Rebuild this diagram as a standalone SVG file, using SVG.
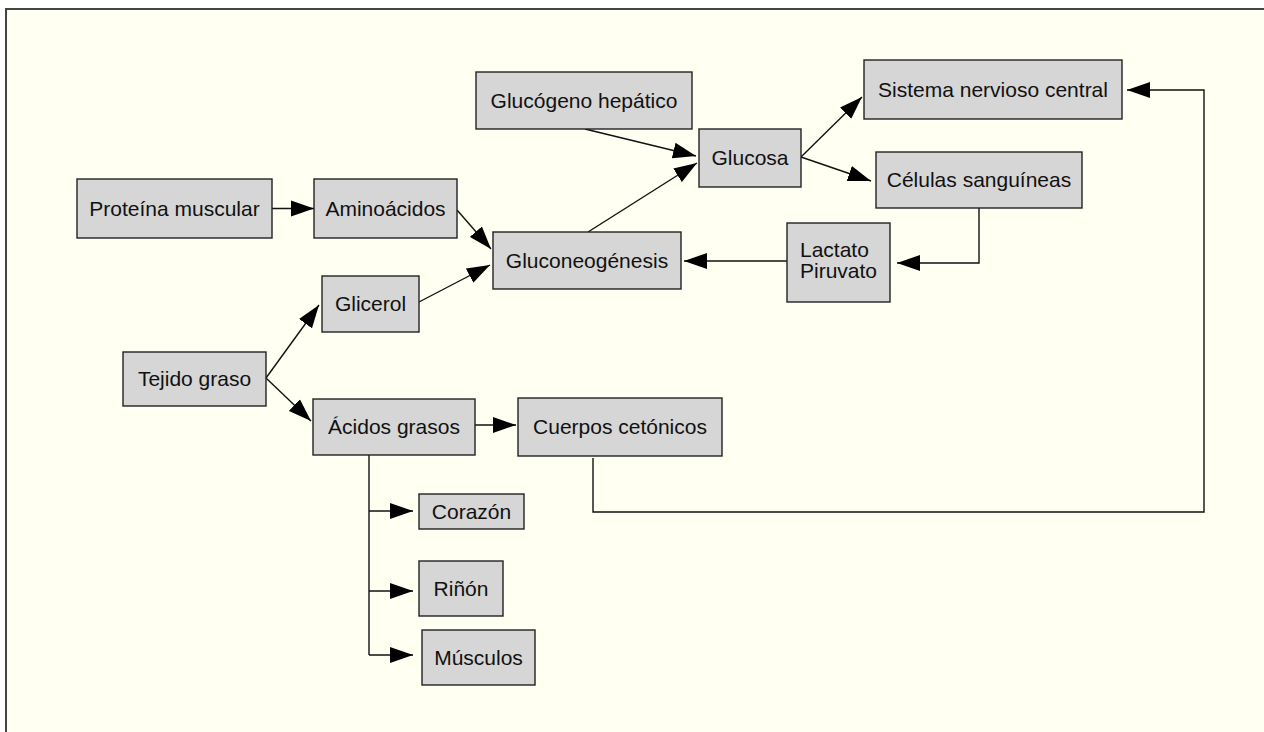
<svg xmlns="http://www.w3.org/2000/svg" width="1264" height="732" viewBox="0 0 1264 732">
<style>
.frame{fill:#fffff2;stroke:#444;stroke-width:2}
.node rect{fill:#d6d6d6;stroke:#222;stroke-width:1.4}
.node text{font-family:"Liberation Sans",Arial,sans-serif;font-size:21px;fill:#111;text-anchor:middle}
.edges path{fill:none;stroke:#111;stroke-width:1.4;marker-end:url(#arr)}
.edges path.plain{marker-end:none}
</style>
<defs>
<marker id="arr" markerUnits="userSpaceOnUse" markerWidth="24" markerHeight="17" refX="23" refY="8.5" orient="auto">
<path d="M0,0.5 L23,8.5 L0,16.5 z" fill="#000"/>
</marker>
</defs>
<rect class="frame" x="6" y="9" width="1300" height="800"/>
<g class="edges">
<path d="M272,208.5 L314,208.5"/>
<path d="M457,210 L491,249"/>
<path d="M419,302 L490,265"/>
<path d="M266,378 L319,305"/>
<path d="M266,378 L311,421"/>
<path d="M588,232 L697,163"/>
<path d="M585,129 L696,156"/>
<path d="M801,157 L862,97"/>
<path d="M801,157 L871,181"/>
<path d="M979,208 L979,263 L897,263"/>
<path d="M787,261 L684,261"/>
<path d="M475,425 L516,425"/>
<path d="M593,458 L593,512 L1204,512 L1204,90 L1127,90"/>
<path class="plain" d="M369,455 L369,655"/>
<path d="M369,511 L413,511"/>
<path d="M369,591 L413,591"/>
<path d="M369,655 L413,655"/>
</g>
<g id="proteina" class="node"><rect x="77" y="179" width="195" height="59"/><text x="174.5" y="216">Proteína muscular</text></g>
<g id="aminoacidos" class="node"><rect x="314" y="179" width="143" height="59"/><text x="385.5" y="216">Aminoácidos</text></g>
<g id="glucogeno" class="node"><rect x="476" y="72" width="216" height="57"/><text x="584" y="108">Glucógeno hepático</text></g>
<g id="glucosa" class="node"><rect x="699" y="129" width="102" height="58"/><text x="750" y="165">Glucosa</text></g>
<g id="snc" class="node"><rect x="864" y="60" width="258" height="59"/><text x="993" y="97">Sistema nervioso central</text></g>
<g id="celulas" class="node"><rect x="876" y="152" width="206" height="56"/><text x="979" y="187">Células sanguíneas</text></g>
<g id="gluconeogenesis" class="node"><rect x="493" y="232" width="188" height="57"/><text x="587" y="268">Gluconeogénesis</text></g>
<g id="lactato" class="node"><rect x="787" y="223" width="103" height="79"/><text x="800" y="257" style="text-anchor:start">Lactato</text><text x="800" y="278" style="text-anchor:start">Piruvato</text></g>
<g id="tejido" class="node"><rect x="123" y="352" width="143" height="54"/><text x="194.5" y="386">Tejido graso</text></g>
<g id="glicerol" class="node"><rect x="322" y="276" width="97" height="56"/><text x="370.5" y="311">Glicerol</text></g>
<g id="acidos" class="node"><rect x="313" y="399" width="162" height="56"/><text x="394" y="434">Ácidos grasos</text></g>
<g id="cuerpos" class="node"><rect x="518" y="398" width="204" height="58"/><text x="620" y="434">Cuerpos cetónicos</text></g>
<g id="corazon" class="node"><rect x="419" y="494" width="105" height="35"/><text x="471.5" y="519">Corazón</text></g>
<g id="rinon" class="node"><rect x="419" y="561" width="84" height="55"/><text x="461" y="596">Riñón</text></g>
<g id="musculos" class="node"><rect x="422" y="630" width="113" height="55"/><text x="478.5" y="665">Músculos</text></g>
</svg>
